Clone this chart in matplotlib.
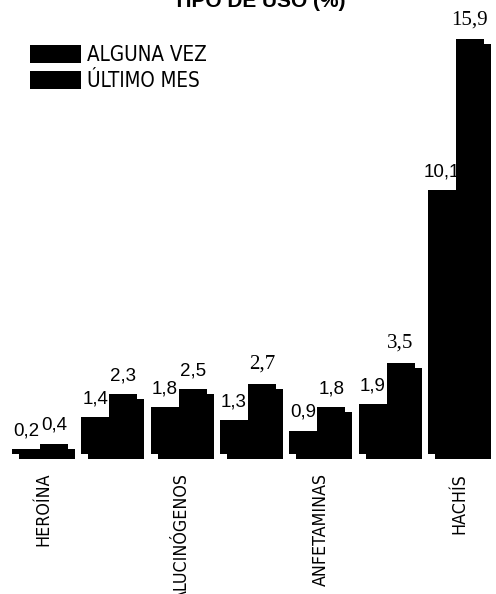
import matplotlib
matplotlib.use("Agg")
import matplotlib.pyplot as plt
from matplotlib.font_manager import FontProperties
import numpy as np

categories = ["HEROÍNA", "", "ALUCINÓGENOS", "", "ANFETAMINAS", "", "HACHÍS"]
alguna_vez = [0.2, 1.4, 1.8, 1.3, 0.9, 1.9, 10.1]
ultimo_mes = [0.4, 2.3, 2.5, 2.7, 1.8, 3.5, 15.9]
series_names = ["ALGUNA VEZ", "ÚLTIMO MES"]
left_labels = ["0,2", "1,4", "1,8", "1,3", "0,9", "1,9", "10,1"]
right_labels = ["0,4", "2,3", "2,5", "2,7", "1,8", "3,5", "15,9"]

W, H, DPI = 4.96, 5.94, 100
fig = plt.figure(figsize=(W, H), dpi=DPI)

px_per_unit_x = 69.3
px_per_unit_y = 26.1
base_px_from_top = 454
x_zero_px = 40
ylo, yhi = -0.5, 17.0
ax_bottom_px = (594 - base_px_from_top) + ylo * px_per_unit_y
ax_height_px = (yhi - ylo) * px_per_unit_y
ax = fig.add_axes([0, ax_bottom_px / 594, 1, ax_height_px / 594])
ax.set_xlim(-x_zero_px / px_per_unit_x, (496 - x_zero_px) / px_per_unit_x)
ax.set_ylim(ylo, yhi)
ax.axis("off")

x = np.arange(len(categories))
bw = 28 / px_per_unit_x
sdx = 7 / px_per_unit_x
sdy = 5 / px_per_unit_y
a = np.array(alguna_vez)
u = np.array(ultimo_mes)

# shadows + bars
ax.bar(x - bw + sdx, a, width=bw, bottom=-sdy, align="edge", color="black", lw=0)
b1 = ax.bar(x - bw, a, width=bw, align="edge", color="black", lw=0, label=series_names[0])
ax.bar(x + sdx, u, width=bw, bottom=-sdy, align="edge", color="black", lw=0)
b2 = ax.bar(x, u, width=bw, align="edge", color="black", lw=0, label=series_names[1])

serif_labels = {"2,7", "3,5", "15,9"}
for xs, vals, labs in ((x - bw / 2, a, left_labels), (x + bw / 2, u, right_labels)):
    for xi, v, lab in zip(xs, vals, labs):
        fam, fs = (["Liberation Serif"], 15) if lab in serif_labels else (["Liberation Sans"], 13.5)
        ax.annotate(lab, (xi, v), xytext=(0, 7), textcoords="offset points",
                    ha="center", va="bottom", fontsize=fs, family=fam)

cond = FontProperties(family="DejaVu Sans", stretch="condensed", size=12.8)
for xi, cat in zip(x, categories):
    if cat:
        ax.text(xi + 0.05, -19 / px_per_unit_y, cat, rotation=90, ha="center", va="top",
                fontproperties=cond)

leg_prop = FontProperties(family="DejaVu Sans", stretch="condensed", size=14.8)
ax.legend(handles=[b1, b2], loc="upper left", bbox_to_anchor=(30 / 496, 1 - 45 / 594),
          bbox_transform=fig.transFigure, frameon=False, prop=leg_prop,
          handlelength=2.5, handleheight=0.95, handletextpad=0.28, labelspacing=0.28,
          borderpad=0, borderaxespad=0)

fig.text(259 / 496, 1 - 7 / 594, "TIPO DE USO (%)", ha="center", va="baseline",
         fontsize=15, fontweight="bold", family=["Liberation Sans"])

fig.savefig("out.png", dpi=DPI)
